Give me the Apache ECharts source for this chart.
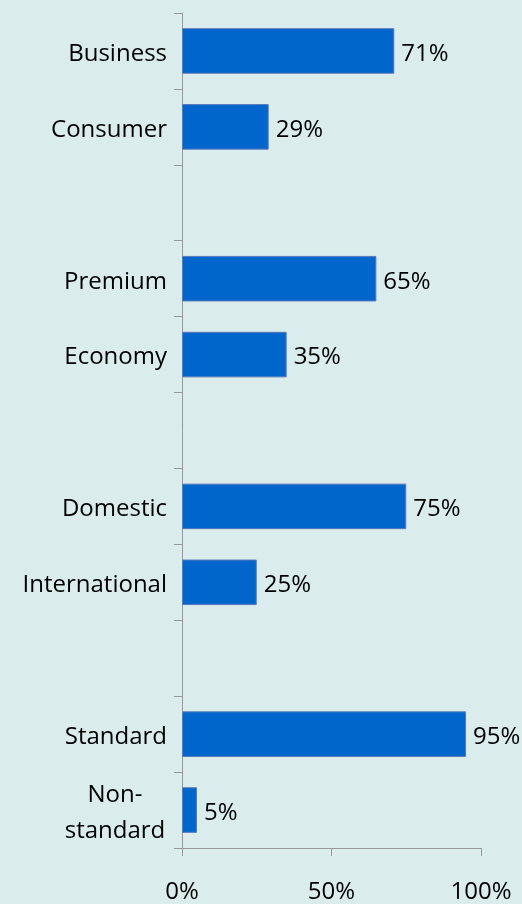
<!DOCTYPE html>
<html>
<head>
<meta charset="utf-8">
<script src="https://cdn.jsdelivr.net/npm/echarts@6/dist/echarts.min.js"></script>
<style>
html,body{margin:0;padding:0;background:#DAECEC;}
#c{width:522px;height:904px;}
</style>
</head>
<body>
<div id="c"></div>
<script>
var categories = ['Business', 'Consumer', ' ', 'Premium', 'Economy', '  ', 'Domestic', 'International', '   ', 'Standard', 'Non-standard'];
var values = [71, 29, '-', 65, 35, '-', 75, 25, '-', 95, 5];
var xTicks = [0, 50, 100];

var chart = echarts.init(document.getElementById('c'), null, {renderer: 'canvas'});
var font = '"Open Sans", sans-serif';
chart.setOption({
  backgroundColor: '#DAECEC',
  animation: false,
  grid: {left: 182, right: 41, top: 13, bottom: 54, containLabel: false},
  xAxis: {
    type: 'value',
    min: xTicks[0],
    max: xTicks[xTicks.length - 1],
    interval: xTicks[1] - xTicks[0],
    axisLine: {show: true, lineStyle: {color: '#999999', width: 1}},
    axisTick: {show: true, length: 8, lineStyle: {color: '#999999'}},
    splitLine: {show: false},
    axisLabel: {
      formatter: '{value}%',
      margin: 32,
      color: '#000000',
      fontSize: 24,
      fontFamily: font
    }
  },
  yAxis: {
    type: 'category',
    inverse: true,
    data: categories,
    axisLine: {show: true, lineStyle: {color: '#999999', width: 1}},
    axisTick: {show: true, length: 8, interval: 0, lineStyle: {color: '#999999'}},
    axisLabel: {
      interval: 0,
      margin: 15,
      color: '#000000',
      fontSize: 24,
      fontFamily: font,
      padding: [6, 0, 0, 0],
      formatter: function (v) {
        if (v === 'Non-standard') {
          return '{c|Non-}\n{c|standard}';
        }
        return v;
      },
      rich: {
        c: {width: 104, align: 'center', fontSize: 24, fontFamily: font, color: '#000000', lineHeight: 36}
      }
    }
  },
  series: [{
    type: 'bar',
    data: values,
    barCategoryGap: '40%',
    itemStyle: {color: '#0066CC', borderColor: '#5B78B8', borderWidth: 1},
    label: {
      show: true,
      position: 'right',
      distance: 7,
      offset: [0, 3],
      formatter: '{c}%',
      color: '#000000',
      fontSize: 24,
      fontFamily: font
    }
  }]
});
</script>
</body>
</html>
